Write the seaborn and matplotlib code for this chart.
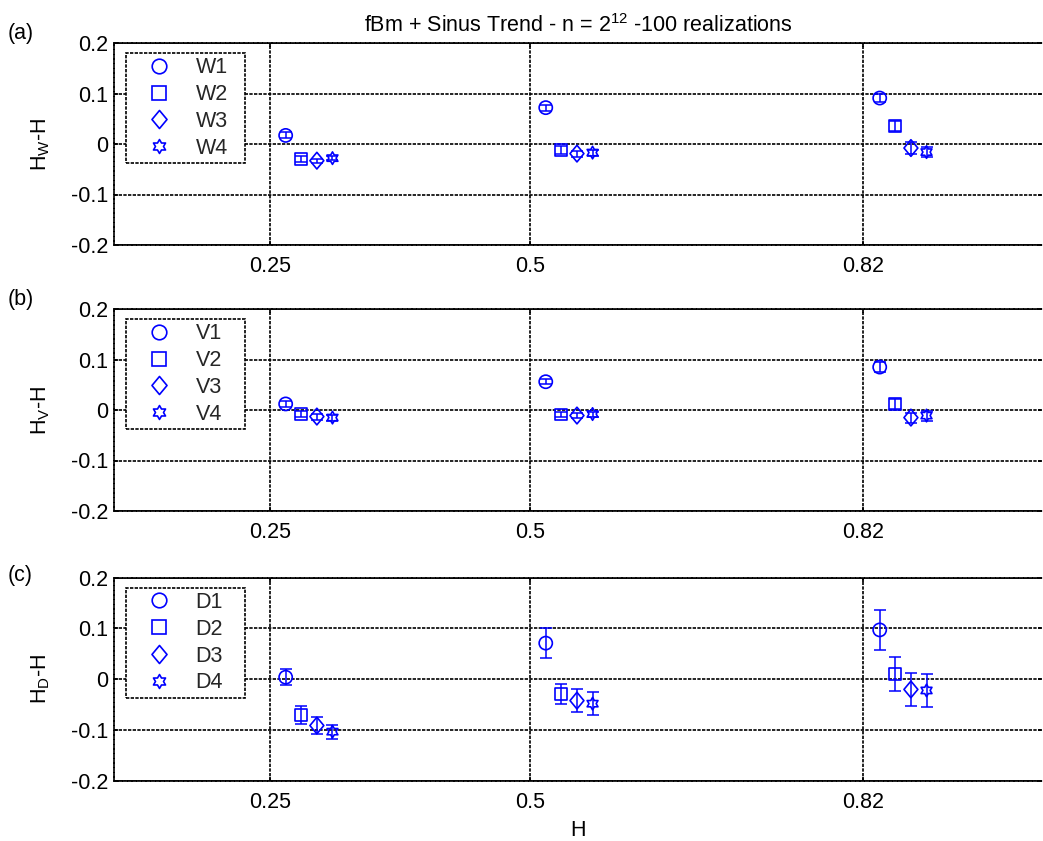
import numpy as np
import pandas as pd
import matplotlib
matplotlib.use("Agg")
import matplotlib.pyplot as plt
import matplotlib.path as mpath
from matplotlib.lines import Line2D
import seaborn as sns

# ---------------- data ----------------
H_ticks = [0.25, 0.5, 0.82]
H_tick_labels = ["0.25", "0.5", "0.82"]
y_ticks = [-0.2, -0.1, 0.0, 0.1, 0.2]
y_tick_labels = ["-0.2", "-0.1", "0", "0.1", "0.2"]

# x positions of each estimator around H (as plotted)
x_s1 = [0.265, 0.515, 0.836]
x_s2 = [0.280, 0.530, 0.851]
x_s3 = [0.295, 0.545, 0.866]
x_s4 = [0.310, 0.560, 0.881]

# panel (a): W estimators
W1 = [0.017, 0.072, 0.091]
W2 = [-0.030, -0.012, 0.036]
W3 = [-0.033, -0.019, -0.008]
W4 = [-0.028, -0.017, -0.016]
W1_err = [0.006, 0.006, 0.008]
W2_err = [0.006, 0.008, 0.010]
W3_err = [0.004, 0.006, 0.012]
W4_err = [0.004, 0.006, 0.010]

# panel (b): V estimators
V1 = [0.012, 0.056, 0.085]
V2 = [-0.008, -0.009, 0.012]
V3 = [-0.013, -0.011, -0.015]
V4 = [-0.015, -0.008, -0.011]
V1_err = [0.006, 0.005, 0.010]
V2_err = [0.006, 0.005, 0.010]
V3_err = [0.006, 0.005, 0.010]
V4_err = [0.006, 0.005, 0.010]

# panel (c): D estimators
D1 = [0.004, 0.071, 0.097]
D2 = [-0.070, -0.029, 0.010]
D3 = [-0.091, -0.042, -0.020]
D4 = [-0.103, -0.048, -0.022]
D1_err = [0.016, 0.030, 0.039]
D2_err = [0.017, 0.020, 0.034]
D3_err = [0.017, 0.022, 0.033]
D4_err = [0.014, 0.022, 0.033]

panel_tags = ["(a)", "(b)", "(c)"]
ylabels = [r"H$_\mathregular{W}$-H", r"H$_\mathregular{V}$-H", r"H$_\mathregular{D}$-H"]
legend_names = [["W1", "W2", "W3", "W4"], ["V1", "V2", "V3", "V4"], ["D1", "D2", "D3", "D4"]]
title = r"fBm + Sinus Trend - n = 2$^{\mathregular{12}}$ -100 realizations"
xlabel = "H"

# ---------------- style ----------------
sns.set_theme(style="white")
plt.rcParams["font.family"] = ["Liberation Sans", "DejaVu Sans"]
plt.rcParams["mathtext.fontset"] = "custom"
plt.rcParams["mathtext.rm"] = "Liberation Sans"
plt.rcParams["mathtext.it"] = "Liberation Sans:italic"

BLUE = (0.0, 0.0, 1.0)
FS = 15.5

# markers
diamond = mpath.Path([(0, 0.6), (0.5, 0), (0, -0.6), (-0.5, 0), (0, 0.6)],
                     [1, 2, 2, 2, 79])
ang = np.deg2rad(np.arange(12) * 30 + 90)
rad = np.where(np.arange(12) % 2 == 0, 1.0, 1.0 / np.sqrt(3))
hv = np.column_stack([rad * np.cos(ang), rad * np.sin(ang)])
hv = np.vstack([hv, hv[:1]])
hexagram = mpath.Path(hv, [1] + [2] * 11 + [79])
markers = ["o", "s", diamond, hexagram]
msizes = [9.5, 8.5, 12.0, 9.0]

fig = plt.figure(figsize=(10.43, 8.41), dpi=100)
W_ = 1043.0
H_ = 841.0
left = 114 / W_
width = (1042 - 114) / W_
tops = [43, 309, 577.5]
bottoms = [245, 511, 781]
tag_y = [34, 300, 575]

xs = [x_s1, x_s2, x_s3, x_s4]
panels = [
    ([W1, W2, W3, W4], [W1_err, W2_err, W3_err, W4_err]),
    ([V1, V2, V3, V4], [V1_err, V2_err, V3_err, V4_err]),
    ([D1, D2, D3, D4], [D1_err, D2_err, D3_err, D4_err]),
]

grid_ls = (0, (2.0, 0.8))

for p in range(3):
    ax = fig.add_axes([left, 1 - bottoms[p] / H_, width, (bottoms[p] - tops[p]) / H_])
    ys, errs = panels[p]
    for k in range(4):
        ax.errorbar(xs[k], ys[k], yerr=errs[k], fmt="none", ecolor=BLUE,
                    elinewidth=1.1, capsize=4.5, capthick=1.1, zorder=3)
        df = pd.DataFrame({"x": xs[k], "y": ys[k]})
        sns.scatterplot(data=df, x="x", y="y", ax=ax, marker=markers[k],
                        s=msizes[k] ** 2, facecolor="none", edgecolor=BLUE,
                        linewidth=1.2, legend=False, zorder=4)
    ax.set_xlim(0.10, 0.992)
    ax.set_ylim(-0.2, 0.2)
    ax.set_xticks(H_ticks)
    ax.set_xticklabels(H_tick_labels)
    ax.set_yticks(y_ticks)
    ax.set_yticklabels(y_tick_labels)
    ax.tick_params(direction="in", length=3, width=1.2, color="black",
                   labelsize=FS, top=True, right=True, bottom=True, left=True,
                   labelcolor="black")
    ax.tick_params(axis="x", pad=8)
    ax.tick_params(axis="y", pad=4)
    ax.grid(True, color="black", linestyle=grid_ls, linewidth=1.2)
    for name, sp in ax.spines.items():
        sp.set_color("black")
        sp.set_linewidth(1.2)
        sp.set_linestyle(grid_ls)
    ax.spines["right"].set_visible(False)
    ax.set_xlabel("")
    ax.set_ylabel(ylabels[p], fontsize=FS, color="black")
    ax.yaxis.set_label_coords(-0.0666, 0.5)
    handles = [Line2D([], [], marker=markers[k], linestyle="none", markerfacecolor="none",
                      markeredgecolor=BLUE, markeredgewidth=1.2, markersize=msizes[k] + 1)
               for k in range(4)]
    leg = ax.legend(handles, legend_names[p], loc="upper left",
                    bbox_to_anchor=(12 / 928, 0.0, 119 / 928, 1 - 10 / 202),
                    mode="expand", borderaxespad=0,
                    fontsize=FS, frameon=True, fancybox=False, framealpha=1,
                    edgecolor="black", handlelength=2.7, handletextpad=0.33,
                    labelspacing=0.27, borderpad=0.2)
    leg.get_frame().set_linewidth(1.2)
    leg.get_frame().set_linestyle(grid_ls)
    fig.text(8 / W_, 1 - tag_y[p] / H_, panel_tags[p], fontsize=FS, ha="left",
             va="center", color="black")
    if p == 0:
        ax.set_title(title, fontsize=FS, color="black", pad=8)
    if p == 2:
        ax.set_xlabel(xlabel, fontsize=FS, color="black", labelpad=5)

fig.savefig("out.png", dpi=100)
